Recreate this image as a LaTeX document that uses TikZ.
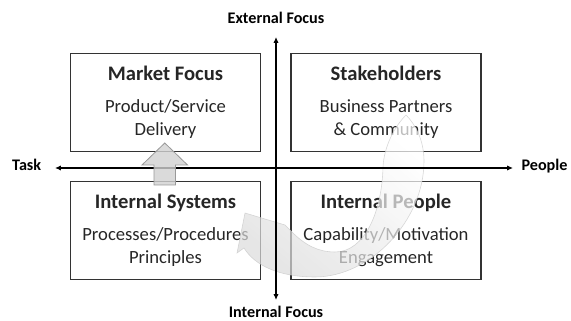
\documentclass[tikz,border=0pt]{standalone}
\usepackage{fontspec}
\setmainfont{Carlito}
\usetikzlibrary{arrows.meta}

\newcommand{\subfont}{\fontsize{15.9}{19.6}\selectfont}
\newcommand{\titlefont}{\fontsize{17.6}{19.6}\selectfont\bfseries}
\newcommand{\axisfont}{\fontsize{13.8}{16}\selectfont\bfseries}

\begin{document}
\begin{tikzpicture}[x=0.03cm, y=0.03cm,
    quad node/.style={draw=black!80, line width=0.9pt, minimum width=5.7cm, minimum height=2.96cm, align=center, inner sep=0pt},
    axis/.style={line width=1.4pt, {Latex[length=5pt,width=4.5pt]}-{Latex[length=5pt,width=4.5pt]}},
    axis label/.style={font=\axisfont, text=black, anchor=base},
    cycle arrow/.style={draw=black!22, line width=0.5pt, top color=white, bottom color=black!14, shading angle=-40, opacity=0.7},
    lift arrow/.style={draw=black!40, line width=0.7pt, fill=black!18, fill opacity=0.8}]
  \tikzstyle{every node}=[font=\subfont, text=black!85]
  \useasboundingbox (0,0) rectangle (571,321);

  % the four quadrants
  \node[quad node] (1) at (165.5,218.5) {{\titlefont Market Focus}\\[7.4pt]Product/Service\\Delivery};
  \node[quad node] (2) at (386,218.5) {{\titlefont Stakeholders}\\[7.4pt]Business Partners\\\& Community};
  \node[quad node] (3) at (165.5,90.5) {{\titlefont Internal Systems}\\[7.4pt]Processes/Procedures\\Principles};
  \node[quad node] (4) at (386,90.5) {{\titlefont Internal People}\\[7.4pt]Capability/Motivation\\Engagement};

  % big round arrow, people -> systems
  \shade[cycle arrow] (406,206)
      .. controls (416,196) and (424,180) .. (424,160)
      .. controls (424,100) and (370,44) .. (315,44)
      .. controls (280,44) and (255,55) .. (244,73)
      -- (237,68) -- (245,108) -- (285,96) -- (292,89)
      .. controls (305,76) and (318,69) .. (335,69)
      .. controls (365,69) and (382,110) .. (383,154)
      .. controls (384,175) and (395,195) .. (406,206) -- cycle;

  % axes
  \coordinate (top) at (276,284);
  \coordinate (bottom) at (276,21);
  \coordinate (left) at (55,153);
  \coordinate (right) at (513,153);
  \draw[axis] (bottom) -- (top);
  \draw[axis] (left) -- (right);

  \node[axis label] (ext) at (276,297.5) {External Focus};
  \node[axis label] (int) at (276,3.5) {Internal Focus};
  \node[axis label] (task) at (26.7,150.4) {Task};
  \node[axis label] (people) at (544.5,150.6) {People};

  % block arrow, systems -> market
  \draw[lift arrow] (154,136) -- (154,156) -- (142,156) -- (164.75,178)
      -- (187.5,156) -- (175.5,156) -- (175.5,136) -- cycle;
\end{tikzpicture}
\end{document}
